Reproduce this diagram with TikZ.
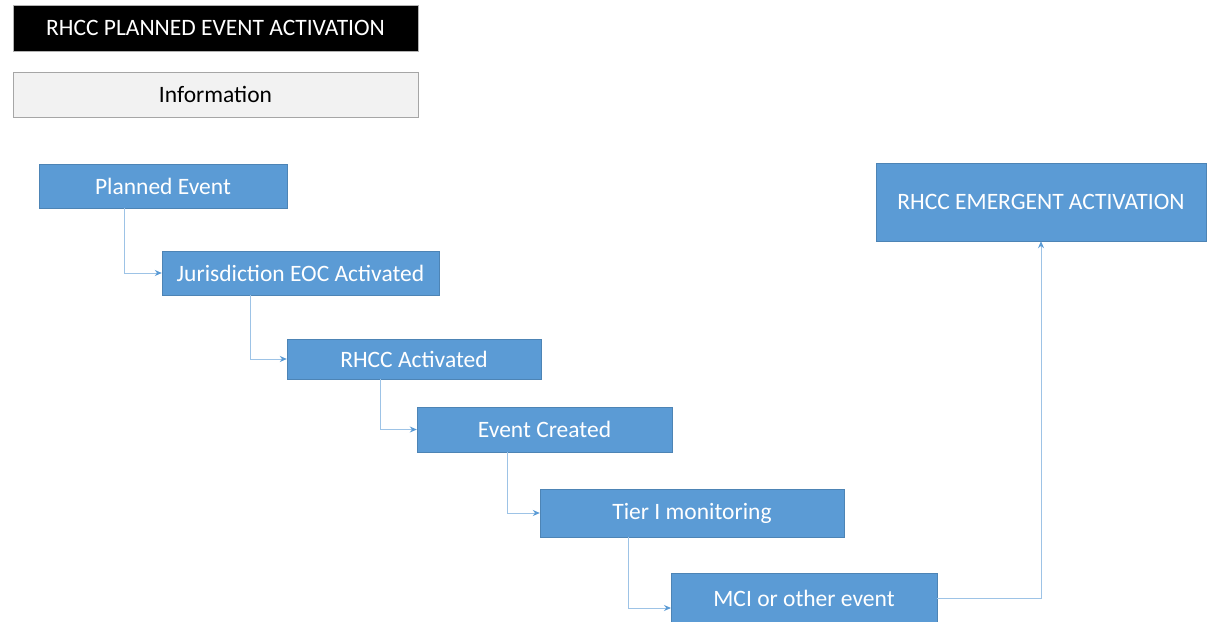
\documentclass[tikz,border=0pt]{standalone}
\usepackage{fontspec}
\setmainfont{Carlito}
\usetikzlibrary{arrows.meta}
\definecolor{boxblue}{HTML}{5B9BD5}
\definecolor{lineblue}{HTML}{9DC3E6}
\definecolor{infogray}{HTML}{F2F2F2}
\begin{document}
\begin{tikzpicture}[x=1pt,y=-1pt,
  txt/.style={font=\fontsize{23.5}{26}\selectfont},
  bx/.style={txt, draw=boxblue!85!black, line width=0.4pt, fill=boxblue, text=white, inner sep=0pt},
  conn/.style={draw=lineblue, line width=1pt, -{Stealth[length=7pt,width=6pt,color=boxblue,fill=boxblue]}}]
\useasboundingbox (0,0) rectangle (1209,621);
% header boxes
\node[txt, draw=gray!60, fill=black, text=white, minimum width=405pt, minimum height=46pt, inner sep=0pt] (title) at (215.5,28) {RHCC PLANNED EVENT ACTIVATION};
\node[txt, draw=gray!70, line width=1pt, fill=infogray, text=black, minimum width=405pt, minimum height=45pt, inner sep=0pt] (info) at (215.5,94.5) {Information};
% flow boxes
\node[bx, minimum width=248pt, minimum height=44pt] (pe) at (163,186) {Planned Event};
\node[bx, minimum width=277pt, minimum height=44pt] (je) at (300.5,273) {Jurisdiction EOC Activated};
\node[bx, minimum width=254pt, minimum height=40pt] (ra) at (414,359) {RHCC Activated};
\node[bx, minimum width=255pt, minimum height=45pt] (ec) at (544.5,429.5) {Event Created};
\node[bx, minimum width=304pt, minimum height=48pt] (t1) at (692,513) {Tier I monitoring};
\node[bx, minimum width=266pt, minimum height=50pt] (mci) at (804,598) {MCI or other event};
\node[bx, minimum width=330pt, minimum height=78pt] (em) at (1041,202) {RHCC EMERGENT ACTIVATION};
% connectors
\coordinate (pes) at (124,208);
\coordinate (jes) at (250,295);
\coordinate (ras) at (380,379);
\coordinate (ecs) at (507,452);
\coordinate (t1s) at (628,537);
\coordinate (mciw) at (671,608);
\draw[conn] (pes) |- (je.west);
\draw[conn] (jes) |- (ra.west);
\draw[conn] (ras) |- (ec.west);
\draw[conn] (ecs) |- (t1.west);
\draw[conn] (t1s) |- (mciw);
\draw[conn] (mci.east) -| (em.south);
\end{tikzpicture}
\end{document}
